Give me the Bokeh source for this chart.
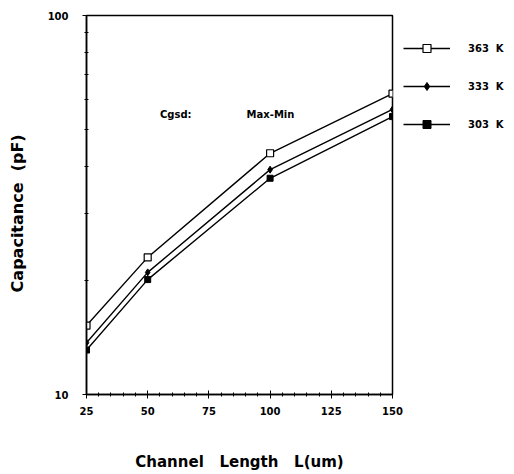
from bokeh.plotting import figure
from bokeh.layouts import row
from bokeh.models import FixedTicker, Legend, LegendItem, Label, Range1d
from bokeh.embed import file_html
from bokeh.resources import INLINE

lengths = [25, 50, 100, 150]
cap_363 = [15.2, 23.0, 43.3, 62.2]
cap_333 = [13.7, 21.0, 39.2, 56.5]
cap_303 = [13.1, 20.1, 37.2, 54.1]
x_ticks = [25, 50, 75, 100, 125, 150]
y_ticks = [10, 100]
series_labels = ["363  K", "333  K", "303  K"]

FONT = "DejaVu Sans"

p = figure(width=403, height=474, y_axis_type="log",
           x_range=Range1d(25, 150), y_range=Range1d(10, 100),
           output_backend="svg", toolbar_location=None,
           min_border_left=86, min_border_right=11, min_border_top=15, min_border_bottom=80)
p.grid.visible = False
p.outline_line_color = "black"
p.outline_line_width = 1.5
p.background_fill_color = "white"
p.border_fill_color = "white"

p.xaxis.ticker = FixedTicker(ticks=x_ticks, minor_ticks=list(range(25, 151, 5)))
p.yaxis.ticker = FixedTicker(ticks=y_ticks, minor_ticks=[20, 30, 40, 50, 60, 70, 80, 90])
for ax in (p.xaxis, p.yaxis):
    ax.axis_line_width = 1.5
    ax.axis_line_color = "black"
    ax.major_tick_in = 4
    ax.major_tick_out = 4
    ax.minor_tick_in = 2
    ax.minor_tick_out = 2
    ax.major_label_text_font = FONT
    ax.major_label_text_font_style = "bold"
    ax.major_label_text_font_size = "10px"
    ax.major_label_text_color = "black"
    ax.axis_label_text_font = FONT
    ax.axis_label_text_font_style = "bold"
    ax.axis_label_text_color = "black"
p.yaxis.major_label_overrides = {10: "10", 100: "100"}
p.yaxis.major_label_standoff = 14
p.xaxis.major_label_standoff = 8
p.xaxis.axis_label = "Channel" + "\u00a0" * 3 + "Length" + "\u00a0" * 3 + "L(um)"
p.yaxis.axis_label = "Capacitance" + "\u00a0" * 2 + "(pF)" + "\u00a0" * 3
p.xaxis.axis_label_text_font_size = "15px"
p.yaxis.axis_label_text_font_size = "16px"
p.xaxis.axis_label_standoff = 35
p.yaxis.axis_label_standoff = 18

styles = [
    dict(marker="square", size=7, fill_color="white", line_color="black", line_width=1.2),
    dict(marker="diamond", size=7, fill_color="black", line_color="black"),
    dict(marker="square", size=6, fill_color="black", line_color="black"),
]
for ys, st in zip([cap_363, cap_333, cap_303], styles):
    p.line(lengths, ys, line_color="black", line_width=1.4)
    p.scatter(lengths, ys, **st)

p.add_layout(Label(x=55, y=54.8, text="Cgsd:", text_font=FONT, text_font_style="bold",
                   text_color="black", text_font_size="10px", text_align="left", text_baseline="middle"))
p.add_layout(Label(x=90.4, y=54.8, text="Max-Min", text_font=FONT, text_font_style="bold",
                   text_color="black", text_font_size="10px", text_align="left", text_baseline="middle"))

# side panel holding the legend (its frame is aligned with the main frame)
q = figure(width=111, height=474, output_backend="svg", toolbar_location=None,
           x_range=Range1d(0, 1), y_range=Range1d(0, 1),
           x_axis_location=None, y_axis_location=None,
           min_border_left=0, min_border_right=0, min_border_top=0, min_border_bottom=0)
q.grid.visible = False
q.outline_line_color = None
q.background_fill_color = "white"
q.border_fill_color = "white"
items = []
for lab, st in zip(series_labels, styles):
    lst = dict(st, size=st["size"] - 1)
    lr = q.line(x=[-5, -4], y=[-5, -4], line_color="black", line_width=1.4)
    mr = q.scatter(x=[-5], y=[-5], **lst)
    items.append(LegendItem(label=lab, renderers=[lr, mr]))
legend = Legend(items=items, location=(0, 260), orientation="vertical")
legend.glyph_width = 47
legend.glyph_height = 20
legend.label_height = 20
legend.spacing = 18
legend.padding = 0
legend.margin = 0
legend.label_standoff = 18
legend.border_line_color = None
legend.background_fill_alpha = 0
legend.label_text_font = FONT
legend.label_text_font_style = "bold"
legend.label_text_font_size = "10px"
legend.label_text_color = "black"
q.add_layout(legend, "center")

layout = row(p, q, spacing=0)
open("out.html", "w").write(file_html(layout, INLINE))
